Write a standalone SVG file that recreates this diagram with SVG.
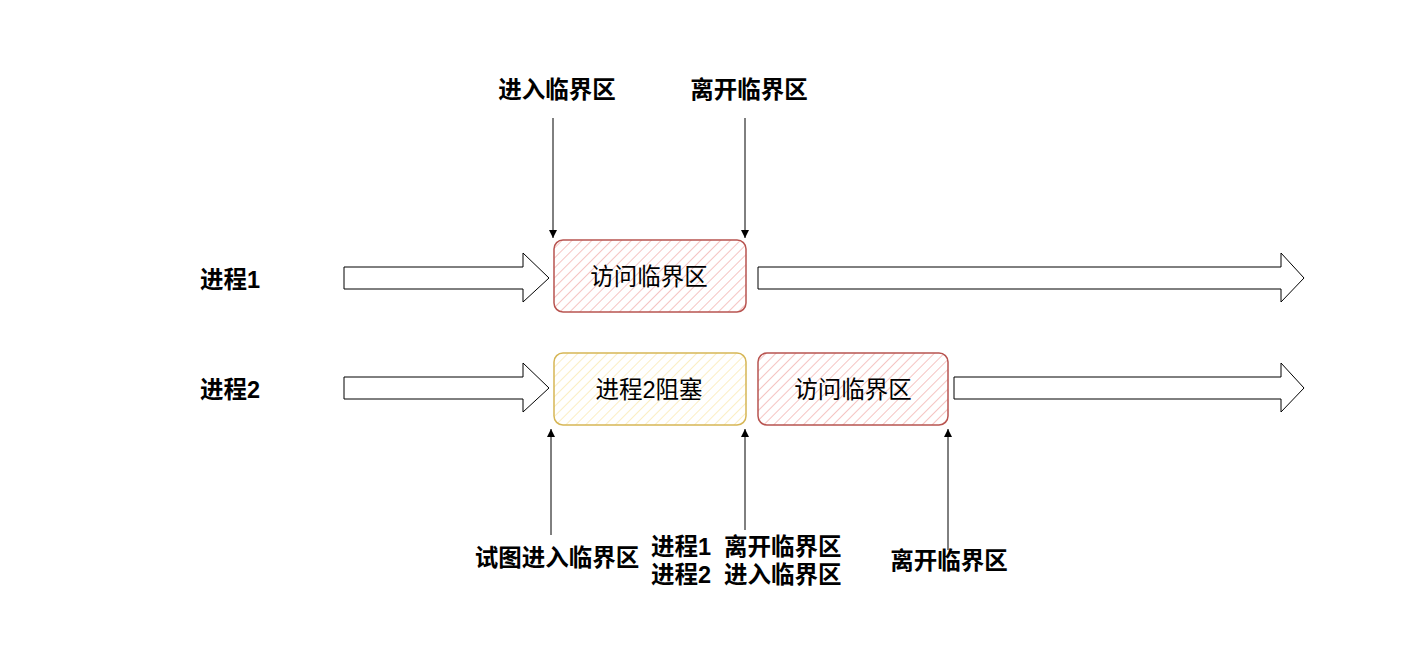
<svg xmlns="http://www.w3.org/2000/svg" width="1418" height="670" viewBox="0 0 1418 670">
<style>
.lbl{font-family:"Liberation Sans","Noto Sans CJK SC",sans-serif;font-size:23.5px;font-weight:bold;fill:#000}
.txt{font-family:"Liberation Sans","Noto Sans CJK SC",sans-serif;font-size:23.5px;fill:#000}
.big{fill:#fff;stroke:#000;stroke-width:1}
.conn{stroke:#000;stroke-width:1;fill:none}
</style>
<defs>
<pattern id="hr" width="7" height="7" patternUnits="userSpaceOnUse" patternTransform="rotate(45)">
<rect width="7" height="7" fill="#fff"/>
<line x1="0" y1="0" x2="0" y2="7" stroke="#f5c4c2" stroke-width="2"/>
</pattern>
<pattern id="hy" width="7" height="7" patternUnits="userSpaceOnUse" patternTransform="rotate(45)">
<rect width="7" height="7" fill="#fff"/>
<line x1="0" y1="0" x2="0" y2="7" stroke="#fbeec4" stroke-width="2"/>
</pattern>
<marker id="ah" viewBox="0 0 10 10" refX="10" refY="5" markerWidth="8" markerHeight="8" orient="auto" markerUnits="userSpaceOnUse">
<path d="M0,0 L10,5 L0,10 Z" fill="#000"/>
</marker>
</defs>
<g id="label-p1"><text class="lbl" x="200" y="288">进程1</text></g>
<g id="label-p2"><text class="lbl" x="200" y="398">进程2</text></g>
<g id="arrow-p1-left"><path class="big" d="M344,267 H523 V253 L549,278 L523,302 V289 H344 Z"/></g>
<g id="arrow-p1-right"><path class="big" d="M758,267 H1281 V253 L1304,278 L1281,302 V289 H758 Z"/></g>
<g id="arrow-p2-left"><path class="big" d="M344,377 H523 V363 L549,388 L523,412 V399 H344 Z"/></g>
<g id="arrow-p2-right"><path class="big" d="M954,377 H1281 V363 L1304,388 L1281,412 V399 H954 Z"/></g>
<g id="box-p1-cs">
<rect x="554" y="240" width="192" height="72" rx="9" fill="url(#hr)" stroke="#b85450" stroke-width="1.5"/>
<text class="txt" x="649" y="285" text-anchor="middle">访问临界区</text>
</g>
<g id="box-p2-block">
<rect x="554" y="353" width="192" height="72" rx="9" fill="url(#hy)" stroke="#d6b656" stroke-width="1.5"/>
<text class="txt" x="649" y="398" text-anchor="middle">进程2阻塞</text>
</g>
<g id="box-p2-cs">
<rect x="758" y="353" width="190" height="72" rx="9" fill="url(#hr)" stroke="#b85450" stroke-width="1.5"/>
<text class="txt" x="853" y="398" text-anchor="middle">访问临界区</text>
</g>
<g id="label-enter1"><text class="lbl" x="557" y="98" text-anchor="middle">进入临界区</text></g>
<g id="label-leave1"><text class="lbl" x="749" y="98" text-anchor="middle">离开临界区</text></g>
<g id="label-try"><text class="lbl" x="557" y="566" text-anchor="middle">试图进入临界区</text></g>
<g id="label-switch">
<text class="lbl" x="651" y="555">进程1</text>
<text class="lbl" x="651" y="583">进程2</text>
<text class="lbl" x="724" y="555">离开临界区</text>
<text class="lbl" x="724" y="583">进入临界区</text>
</g>
<g id="label-leave2"><text class="lbl" x="949" y="569" text-anchor="middle">离开临界区</text></g>
<g id="connectors">
<line class="conn" x1="553" y1="118" x2="553" y2="238" marker-end="url(#ah)"/>
<line class="conn" x1="745" y1="118" x2="745" y2="238" marker-end="url(#ah)"/>
<line class="conn" x1="551" y1="535" x2="551" y2="429" marker-end="url(#ah)"/>
<line class="conn" x1="745" y1="530" x2="745" y2="429" marker-end="url(#ah)"/>
<line class="conn" x1="948" y1="550" x2="948" y2="429" marker-end="url(#ah)"/>
</g>
</svg>
